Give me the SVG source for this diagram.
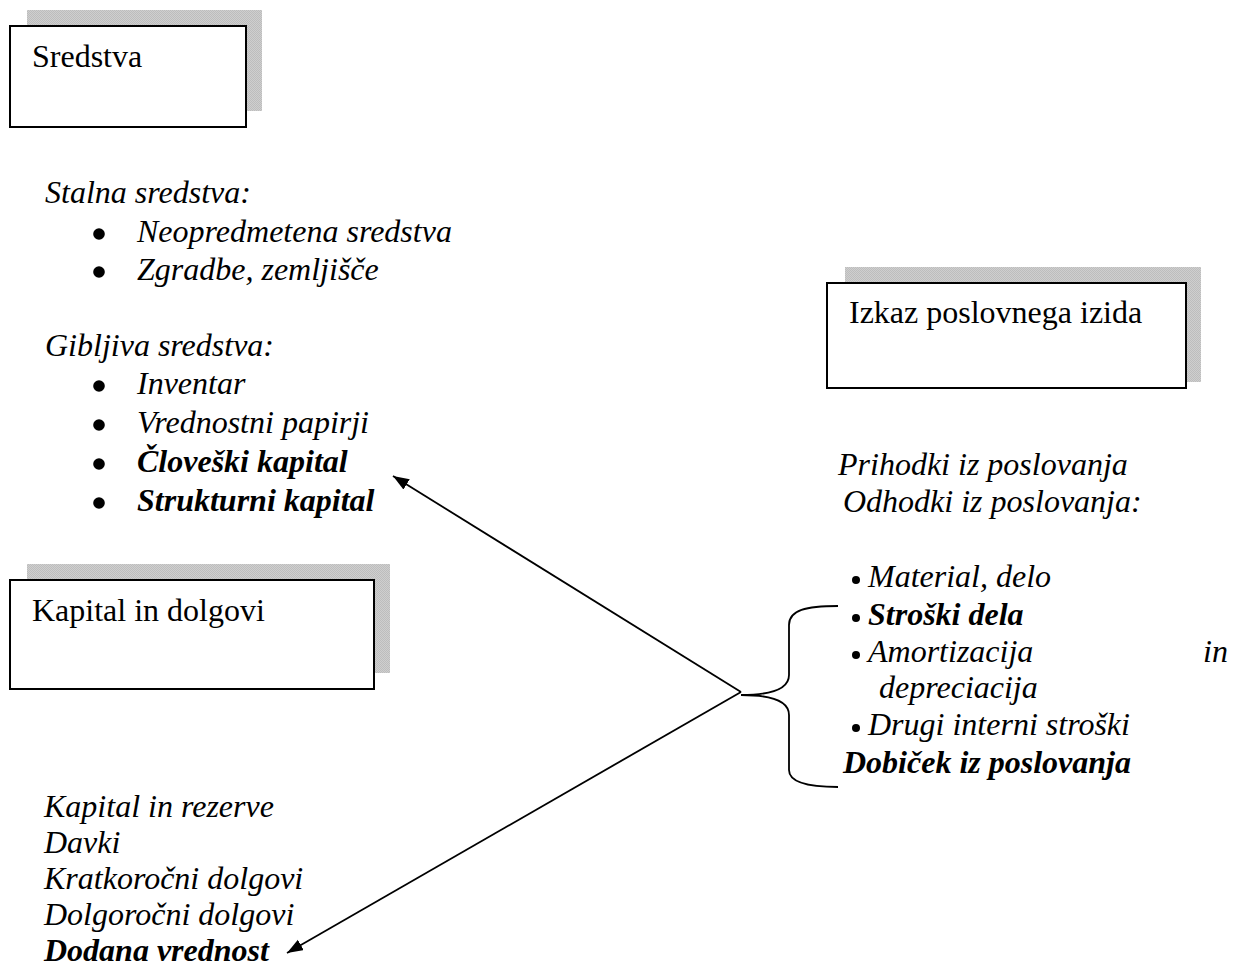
<svg xmlns="http://www.w3.org/2000/svg" width="1255" height="967" viewBox="0 0 1255 967">
<style>
.t{font-family:"Liberation Serif","Times New Roman",serif;font-size:32px;fill:#000}
.i{font-style:italic}
.b{font-weight:bold}
.dot{fill:#000}
.box{fill:#fff;stroke:#000;stroke-width:2}
.shadow{fill:url(#dither)}
.ln{fill:none;stroke:#000;stroke-width:1.8}
</style>
<defs>
<pattern id="dither" width="2" height="2" patternUnits="userSpaceOnUse">
<rect width="2" height="2" fill="#cfcfcf"/>
<rect width="1" height="1" fill="#bdbdbd"/>
<rect x="1" y="1" width="1" height="1" fill="#bdbdbd"/>
</pattern>
<marker id="arr" markerUnits="userSpaceOnUse" markerWidth="18" markerHeight="14" refX="16" refY="6" orient="auto">
<path d="M0,0 L16,6 L0,12 z" fill="#000"/>
</marker>
</defs>

<g id="node-sredstva">
<rect class="shadow" x="27" y="10" width="235" height="101"/>
<rect class="box" x="10" y="26" width="236" height="101"/>
<text class="t" x="32" y="67">Sredstva</text>
</g>

<g id="node-sredstva-list">
<text class="t i" x="45" y="203">Stalna sredstva:</text>
<circle class="dot" cx="99" cy="234" r="5.8"/>
<text class="t i" x="137" y="242">Neopredmetena sredstva</text>
<circle class="dot" cx="99" cy="272" r="5.8"/>
<text class="t i" x="137" y="280">Zgradbe, zemljišče</text>
<text class="t i" x="45" y="356">Gibljiva sredstva:</text>
<circle class="dot" cx="99" cy="386" r="5.8"/>
<text class="t i" x="137" y="394">Inventar</text>
<circle class="dot" cx="99" cy="425" r="5.8"/>
<text class="t i" x="137" y="433">Vrednostni papirji</text>
<circle class="dot" cx="99" cy="464" r="5.8"/>
<text class="t i b" x="137" y="472">Človeški kapital</text>
<circle class="dot" cx="99" cy="503" r="5.8"/>
<text class="t i b" x="137" y="511">Strukturni kapital</text>
</g>

<g id="node-izkaz">
<rect class="shadow" x="845" y="267" width="356" height="115"/>
<rect class="box" x="827" y="283" width="359" height="105"/>
<text class="t" x="849" y="323">Izkaz poslovnega izida</text>
</g>

<g id="node-izkaz-list">
<text class="t i" x="838" y="475">Prihodki iz poslovanja</text>
<text class="t i" x="843" y="512">Odhodki iz poslovanja:</text>
<circle class="dot" cx="856" cy="580" r="4"/>
<text class="t i" x="868" y="587">Material, delo</text>
<circle class="dot" cx="856" cy="618" r="4"/>
<text class="t i b" x="868" y="625">Stroški dela</text>
<circle class="dot" cx="856" cy="655" r="4"/>
<text class="t i" x="868" y="662">Amortizacija</text>
<text class="t i" x="1203" y="662">in</text>
<text class="t i" x="879" y="698">depreciacija</text>
<circle class="dot" cx="856" cy="728" r="4"/>
<text class="t i" x="868" y="735">Drugi interni stroški</text>
<text class="t i b" x="843" y="773">Dobiček iz poslovanja</text>
</g>

<g id="node-kapital">
<rect class="shadow" x="27" y="564" width="363" height="109"/>
<rect class="box" x="10" y="580" width="364" height="109"/>
<text class="t" x="32" y="621">Kapital in dolgovi</text>
</g>

<g id="node-kapital-list">
<text class="t i" x="44" y="817">Kapital in rezerve</text>
<text class="t i" x="44" y="853">Davki</text>
<text class="t i" x="44" y="889">Kratkoročni dolgovi</text>
<text class="t i" x="44" y="925">Dolgoročni dolgovi</text>
<text class="t i b" x="44" y="961">Dodana vrednost</text>
</g>

<g id="connectors">
<path class="ln" d="M838,606 C806,606 789,610 789,625 L789,675 C789,689 772,695 741,695 C772,695 789,701 789,715 L789,770 C789,782 806,787 838,787"/>
<line class="ln" x1="741" y1="692" x2="393" y2="476" marker-end="url(#arr)"/>
<line class="ln" x1="741" y1="692" x2="287" y2="953" marker-end="url(#arr)"/>
</g>
</svg>
